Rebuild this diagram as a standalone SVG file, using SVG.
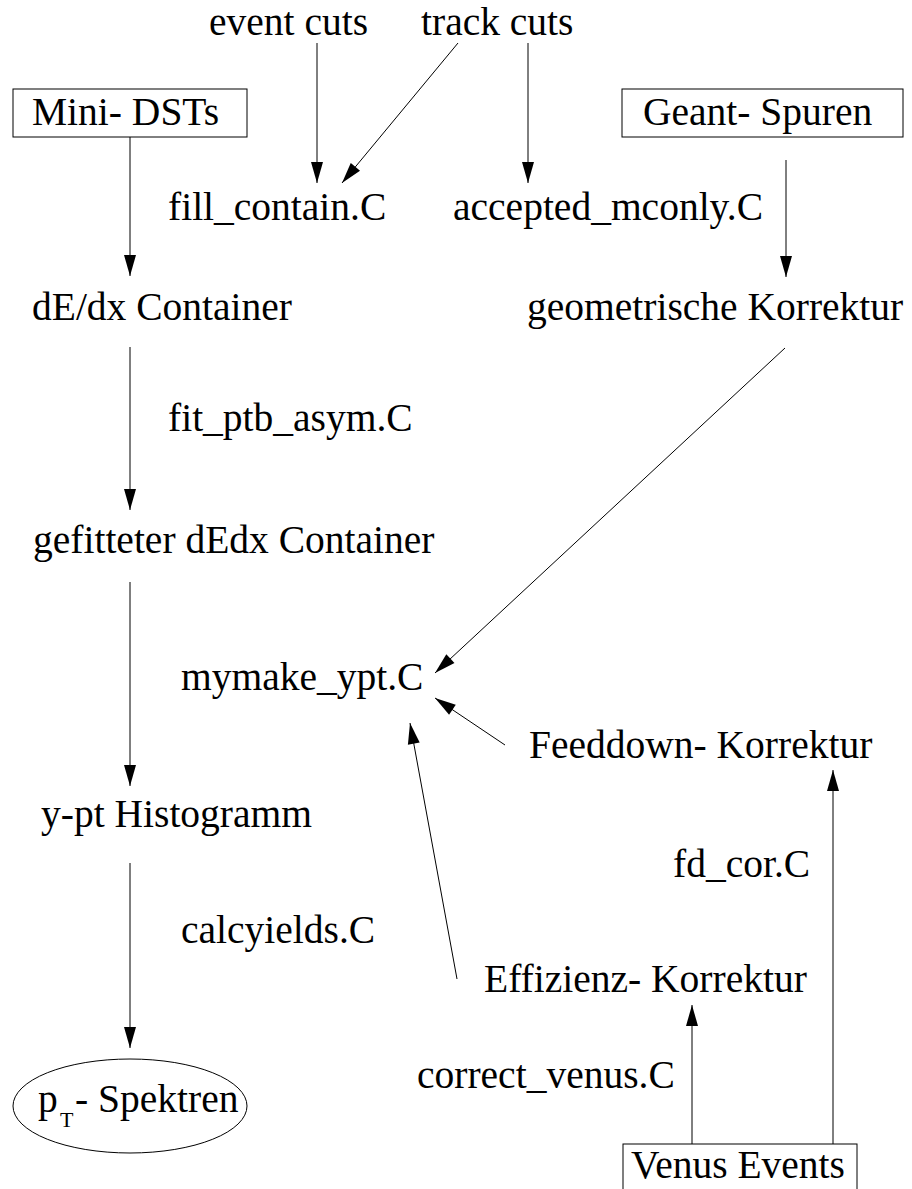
<svg xmlns="http://www.w3.org/2000/svg" width="912" height="1189" viewBox="0 0 912 1189">
<style>
text{font-family:"Liberation Serif","Times New Roman",serif;font-size:39.5px;fill:#000}
.box{fill:#fff;stroke:#000;stroke-width:1}
.c line{stroke:#000;stroke-width:1;fill:none;marker-end:url(#ah)}
</style>
<defs>
<marker id="ah" markerUnits="userSpaceOnUse" markerWidth="21" markerHeight="12" refX="21" refY="6" orient="auto" overflow="visible">
<path d="M0,0 L21,6 L0,12 z" fill="#000"/>
</marker>
</defs>
<rect width="912" height="1189" fill="#fff"/>
<g class="c" id="connectors">
<line x1="317" y1="43" x2="317" y2="183"/>
<line x1="458" y1="43" x2="342" y2="183"/>
<line x1="528" y1="43" x2="528" y2="183"/>
<line x1="130" y1="137" x2="130" y2="276"/>
<line x1="786" y1="160" x2="786" y2="277"/>
<line x1="130" y1="347" x2="130" y2="510"/>
<line x1="785" y1="348" x2="435" y2="673"/>
<line x1="130" y1="582" x2="130" y2="786"/>
<line x1="505" y1="745" x2="435" y2="698"/>
<line x1="457" y1="979" x2="410" y2="723"/>
<line x1="130" y1="863" x2="130" y2="1048"/>
<line x1="692" y1="1144" x2="692" y2="1005"/>
<line x1="833" y1="1144" x2="833" y2="770"/>
</g>
<g id="event_cuts"><text x="209" y="35">event cuts</text></g>
<g id="track_cuts"><text x="421" y="35">track cuts</text></g>
<g id="mini_dsts"><rect class="box" x="13" y="89" width="234" height="48"/><text x="32" y="125">Mini- DSTs</text></g>
<g id="geant_spuren"><rect class="box" x="622" y="89" width="281" height="48"/><text x="643" y="125">Geant- Spuren</text></g>
<g id="fill_contain"><text x="168" y="220">fill_contain.C</text></g>
<g id="accepted_mconly"><text x="453" y="220">accepted_mconly.C</text></g>
<g id="dedx_container"><text x="32" y="320">dE/dx Container</text></g>
<g id="geom_korrektur"><text x="527" y="320">geometrische Korrektur</text></g>
<g id="fit_ptb_asym"><text x="168" y="431">fit_ptb_asym.C</text></g>
<g id="gefitteter"><text x="33" y="553">gefitteter dEdx Container</text></g>
<g id="mymake_ypt"><text x="181" y="690">mymake_ypt.C</text></g>
<g id="feeddown"><text x="529" y="758">Feeddown- Korrektur</text></g>
<g id="ypt_histogramm"><text x="41" y="827">y-pt Histogramm</text></g>
<g id="fd_cor"><text x="673" y="877">fd_cor.C</text></g>
<g id="calcyields"><text x="181" y="943">calcyields.C</text></g>
<g id="effizienz"><text x="484" y="992">Effizienz- Korrektur</text></g>
<g id="correct_venus"><text x="417" y="1088">correct_venus.C</text></g>
<g id="venus_events"><rect class="box" x="623" y="1144" width="234" height="60"/><text x="631" y="1178">Venus Events</text></g>
<g id="pt_spektren"><ellipse class="box" cx="130" cy="1106" rx="117" ry="47"/><text x="38" y="1112">p</text><text x="60" y="1127" style="font-size:22px">T</text><text x="75" y="1112">- Spektren</text></g>
</svg>
